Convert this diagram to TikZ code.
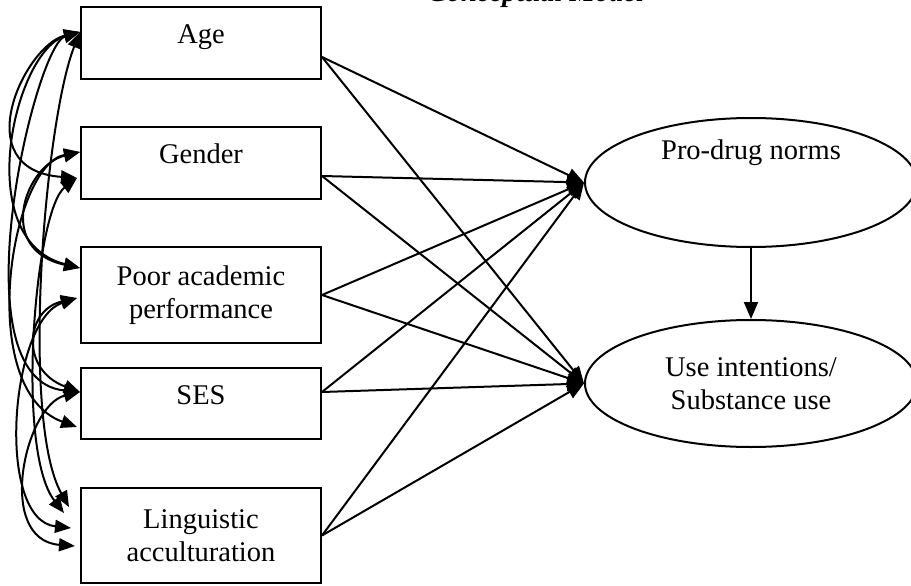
\documentclass[tikz,border=0pt]{standalone}
\usepackage{fontspec}
\setmainfont{Liberation Serif}
\usetikzlibrary{arrows.meta,shapes.geometric}
\begin{document}
\begin{tikzpicture}[x=1pt,y=-1pt,
  every node/.style={font=\fontsize{28.5}{33}\selectfont},
  varbox/.style={draw, line width=2pt, minimum width=240pt, inner sep=0pt, align=center},
  oneline/.style={text height=19pt, text depth=18pt},
  latent/.style={draw, ellipse, line width=2pt, inner sep=0pt, minimum width=332pt, align=center},
  effect/.style={line width=2pt, -{Triangle[length=17pt,width=14pt]}},
  corr/.style={line width=2pt, {Triangle[length=16pt,width=13pt]}-{Triangle[length=16pt,width=13pt]}}
]
\useasboundingbox (0,0) rectangle (911,586);

\node[font=\fontsize{28.5}{33}\selectfont\bfseries\itshape, anchor=base] (title) at (536,2) {Conceptual Model};

\node[varbox, oneline, minimum height=72pt] (age) at (201,43) {Age};
\node[varbox, oneline, minimum height=72pt] (gender) at (201,163) {Gender};
\node[varbox, minimum height=96pt] (poor) at (201,295) {Poor academic\\performance};
\node[varbox, oneline, minimum height=71pt] (ses) at (201,403.5) {SES};
\node[varbox, minimum height=95pt] (ling) at (201,535.5) {Linguistic\\acculturation};

\node[latent, minimum height=129pt, text height=19pt, text depth=66pt] (pd) at (751,182.5) {Pro-drug norms};
\node[latent, minimum height=127pt] (use) at (751,383.5) {Use intentions/\\Substance use};

% effects
\coordinate (ageout) at ([yshift=-14pt]age.east);
\coordinate (genout) at ([yshift=-13pt]gender.east);
\coordinate (sesout) at ([yshift=11.5pt]ses.east);
\foreach \s in {ageout,genout,poor.east,sesout,ling.east}{
  \draw[effect] (\s) -- (pd.west);
  \draw[effect] (\s) -- (use.west);
}
\draw[effect] (pd.south) -- (use.north);

% correlation anchors
\coordinate (A0) at ([yshift=11pt]age.west);
\coordinate (G1) at ([yshift=11pt]gender.west);
\coordinate (G2) at ([xshift=-3pt,yshift=-15pt]gender.west);
\coordinate (P1) at ([yshift=27pt]poor.west);
\coordinate (P2) at ([xshift=-3pt,yshift=-3pt]poor.west);
\coordinate (S1) at ([yshift=11.5pt]ses.west);
\coordinate (S2) at ([xshift=-3pt,yshift=-23.5pt]ses.west);
\coordinate (L1) at ([xshift=-11pt,yshift=28.5pt]ling.west);
\coordinate (L2) at ([xshift=-16pt,yshift=22.5pt]ling.west);
\coordinate (L3) at ([xshift=-9pt,yshift=7.5pt]ling.west);
\coordinate (L4) at ([xshift=-5pt,yshift=-10.5pt]ling.west);

\draw[corr] (A0) .. controls (25,45) and (-35,170) .. (G2);
\draw[corr] (A0) .. controls (15,50) and (-30,240) .. (P1);
\draw[corr] (A0) .. controls (35,45) and (-45,380) .. (S1);
\draw[corr] (A0) .. controls (45,120) and (20,420) .. (L1);
\draw[corr] (G1) .. controls (25,165) and (-5,250) .. (P1);
\draw[corr] (G1) .. controls (10,165) and (-25,390) .. (S2);
\draw[corr] (G2) .. controls (35,210) and (15,450) .. (L2);
\draw[corr] (P2) .. controls (25,310) and (20,370) .. (S1);
\draw[corr] (P2) .. controls (10,320) and (-5,520) .. (L3);
\draw[corr] (S1) .. controls (25,405) and (-5,540) .. (L4);
\end{tikzpicture}
\end{document}
